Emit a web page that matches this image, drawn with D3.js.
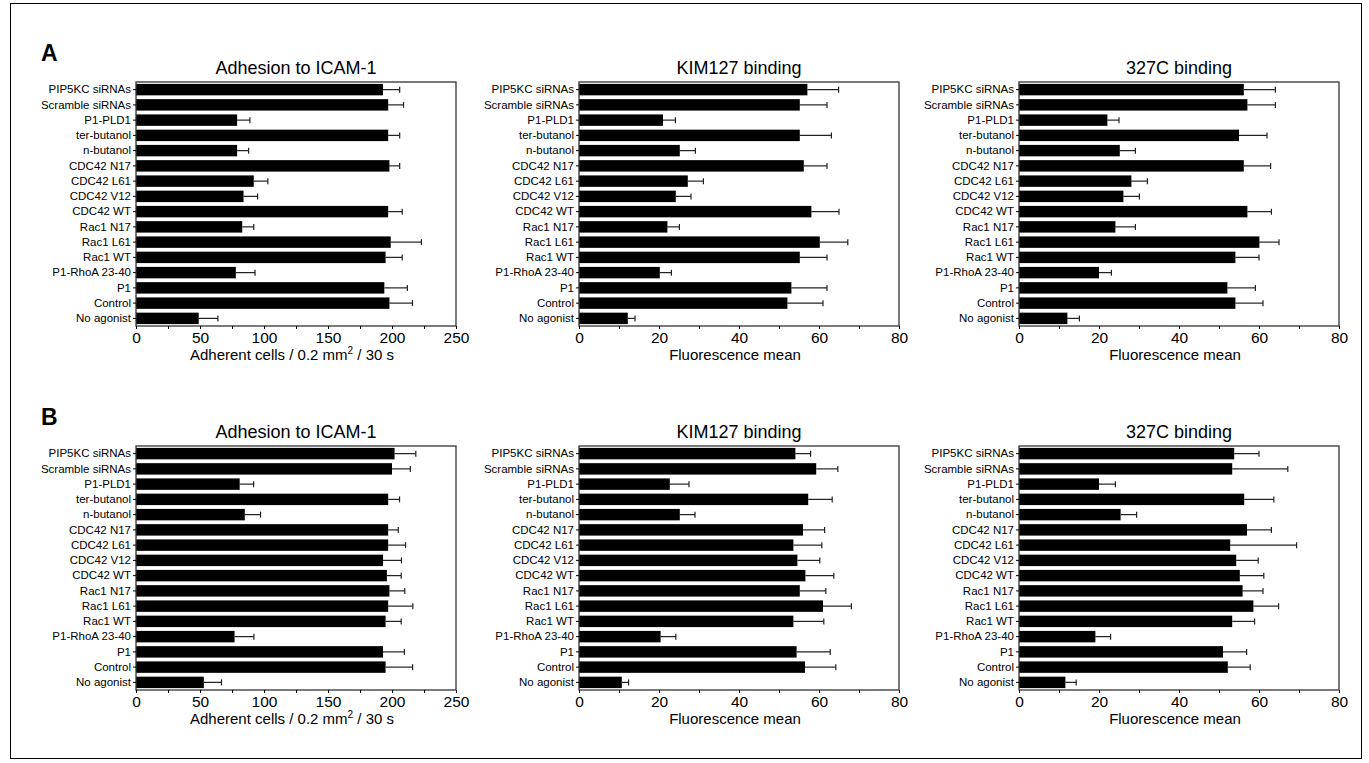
<!DOCTYPE html>
<html>
<head>
<meta charset="utf-8">
<script src="https://cdn.jsdelivr.net/npm/d3@7"></script>
<style>
  body { margin: 0; background: #fff; }
  svg { font-family: "Liberation Sans", Arial, Helvetica, sans-serif; }
  .cat text { font-size: 11.5px; }
  .xax text { font-size: 15.5px; }
</style>
</head>
<body>
<svg id="fig" width="1369" height="763"></svg>
<script>
var categories = ["PIP5KC siRNAs", "Scramble siRNAs", "P1-PLD1", "ter-butanol", "n-butanol",
  "CDC42 N17", "CDC42 L61", "CDC42 V12", "CDC42 WT", "Rac1 N17", "Rac1 L61", "Rac1 WT",
  "P1-RhoA 23-40", "P1", "Control", "No agonist"];

// row A
var adhesionA    = [193, 197, 79, 197, 79, 198, 92, 84, 197, 83, 199, 195, 78, 194, 198, 49];
var adhesionAErr = [13, 12, 10, 9, 9, 8, 11, 11, 11, 9, 24, 13, 15, 18, 18, 15];
var kimA    = [57.1, 55.2, 21, 55.2, 25.2, 56.2, 27.2, 24.2, 58.1, 22.1, 60.2, 55.2, 20.2, 53.1, 52.1, 12.2];
var kimAErr = [7.8, 6.8, 3.1, 7.9, 3.9, 5.8, 3.9, 3.8, 6.9, 3, 7, 6.8, 2.9, 8.9, 8.9, 1.8];
var c327A    = [56.2, 57.1, 22.1, 55, 25.2, 56.2, 28.1, 26.1, 57.1, 24.1, 60.1, 54.1, 20, 52.1, 54.1, 12.1];
var c327AErr = [7.9, 7, 2.9, 7, 3.9, 6.7, 4, 4, 6, 5, 4.9, 5.9, 3.1, 7, 6.9, 3];

// row B
var adhesionB    = [202, 200, 81, 197, 85, 197, 197, 193, 196, 198, 197, 195, 77, 193, 195, 53];
var adhesionBErr = [16.6, 14.3, 10.9, 8.9, 12.3, 7.9, 13.6, 14.4, 11.2, 12, 19.3, 12.2, 15.1, 16.7, 21.1, 13.8];
var kimB    = [54.1, 59.3, 22.7, 57.3, 25.2, 56, 53.6, 54.6, 56.6, 55.2, 61, 53.6, 20.4, 54.4, 56.5, 10.7];
var kimBErr = [3.8, 5.4, 4.8, 6, 3.8, 5.4, 7.1, 5.6, 7.1, 6.5, 7.1, 7.6, 3.8, 8.4, 7.7, 1.7];
var c327B    = [53.8, 53.3, 20, 56.3, 25.4, 57, 52.8, 54.3, 55.2, 55.9, 58.6, 53.3, 19.1, 51, 52.2, 11.6];
var c327BErr = [6.2, 13.9, 4.1, 7.4, 4, 6.1, 16.6, 5.5, 6, 5.1, 6.3, 5.6, 3.8, 5.9, 5.6, 2.7];

var titles = ["Adhesion to ICAM-1", "KIM127 binding", "327C binding"];
var xMax = [250, 80, 80];
var xMajor = [50, 20, 20];
var xMinor = [25, 10, 10];
var rowLetters = ["A", "B"];

var svg = d3.select("#fig");

svg.append("rect")
    .attr("x", 10.5).attr("y", 3.5)
    .attr("width", 1351).attr("height", 755)
    .attr("fill", "none").attr("stroke", "#000").attr("stroke-width", 1);

var rows = [
  {top: 82, data: [[adhesionA, adhesionAErr], [kimA, kimAErr], [c327A, c327AErr]]},
  {top: 446, data: [[adhesionB, adhesionBErr], [kimB, kimBErr], [c327B, c327BErr]]}
];
var lefts = [136, 579, 1019];
var width = 320, height = 244;

rows.forEach(function(row, r) {
  svg.append("text")
      .attr("x", 41).attr("y", row.top - 21)
      .style("font-size", "23px").style("font-weight", "bold")
      .text(rowLetters[r]);

  row.data.forEach(function(pair, p) {
    var vals = pair[0], errs = pair[1];
    var g = svg.append("g")
        .attr("transform", "translate(" + lefts[p] + "," + row.top + ")");

    var x = d3.scaleLinear().domain([0, xMax[p]]).range([0, width]);
    var y = d3.scaleBand().domain(categories).range([0, height])
        .paddingInner(0.25).paddingOuter(0.125);

    var rowsData = categories.map(function(c, i) { return {cat: c, v: vals[i], e: errs[i]}; });

    // error bars
    var eb = g.selectAll(".err").data(rowsData).enter().append("g").attr("class", "err");
    eb.append("line")
        .attr("x1", function(d) { return x(d.v); })
        .attr("x2", function(d) { return x(d.v + d.e); })
        .attr("y1", function(d) { return y(d.cat) + y.bandwidth() / 2; })
        .attr("y2", function(d) { return y(d.cat) + y.bandwidth() / 2; })
        .attr("stroke", "#222").attr("stroke-width", 1.2);
    eb.append("line")
        .attr("x1", function(d) { return x(d.v + d.e); })
        .attr("x2", function(d) { return x(d.v + d.e); })
        .attr("y1", function(d) { return y(d.cat) + y.bandwidth() / 2 - 3; })
        .attr("y2", function(d) { return y(d.cat) + y.bandwidth() / 2 + 3; })
        .attr("stroke", "#222").attr("stroke-width", 1.2);

    g.selectAll(".bar").data(rowsData).enter().append("rect")
        .attr("class", "bar")
        .attr("x", 0)
        .attr("y", function(d) { return y(d.cat); })
        .attr("width", function(d) { return x(d.v); })
        .attr("height", y.bandwidth())
        .attr("fill", "#000");

    // frame
    g.append("rect")
        .attr("width", width).attr("height", height)
        .attr("fill", "none").attr("stroke", "#333").attr("stroke-width", 1.3);

    // y axis
    var yAxis = d3.axisLeft(y).tickSize(3).tickPadding(2);
    g.append("g").attr("class", "cat").call(yAxis)
        .call(function(s) { s.select(".domain").remove(); })
        .call(function(s) { s.selectAll("text").attr("fill", "#000"); });

    // x axis minor ticks, then major with labels
    g.append("g")
        .attr("transform", "translate(0," + height + ")")
        .call(d3.axisBottom(x).tickValues(d3.range(0, xMax[p] + 0.01, xMinor[p])).tickSize(3).tickFormat(""))
        .call(function(s) { s.select(".domain").remove(); });
    g.append("g").attr("class", "xax")
        .attr("transform", "translate(0," + height + ")")
        .call(d3.axisBottom(x).tickValues(d3.range(0, xMax[p] + 0.01, xMajor[p])).tickSize(3).tickPadding(3))
        .call(function(s) { s.select(".domain").remove(); })
        .call(function(s) { s.selectAll("text").attr("fill", "#000"); });

    // title
    g.append("text")
        .attr("x", width / 2).attr("y", -8)
        .attr("text-anchor", "middle")
        .style("font-size", "18px")
        .text(titles[p]);

    // x label
    var lab = g.append("text")
        .attr("x", width / 2 - 4).attr("y", height + 34)
        .attr("text-anchor", "middle")
        .style("font-size", "15px");
    if (p === 0) {
      lab.append("tspan").text("Adherent cells / 0.2 mm");
      lab.append("tspan").attr("dy", -6).style("font-size", "10px").text("2");
      lab.append("tspan").attr("dy", 6).text(" / 30 s");
    } else {
      lab.text("Fluorescence mean");
    }
  });
});
</script>
</body>
</html>
